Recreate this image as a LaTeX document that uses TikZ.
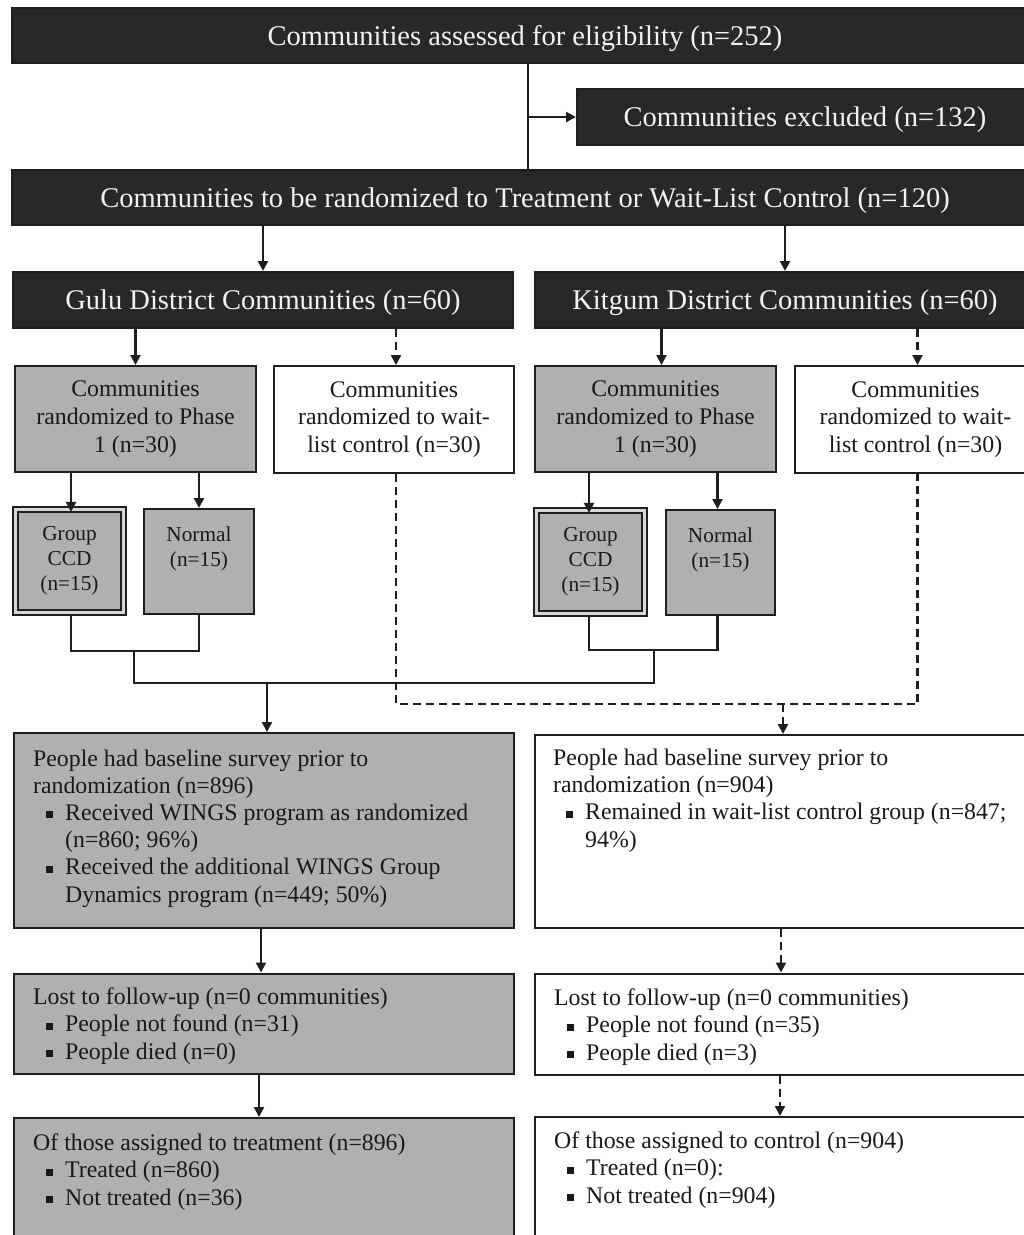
\documentclass[tikz,border=0pt]{standalone}
\usepackage{fontspec}
\setmainfont{Liberation Serif}
\usetikzlibrary{arrows.meta,calc}
\definecolor{darkfill}{RGB}{40,40,40}
\definecolor{grayfill}{RGB}{176,176,176}
\definecolor{linecol}{RGB}{30,30,30}
\definecolor{gapcol}{RGB}{215,215,215}
\newcommand{\sqbul}{\makebox[32pt][l]{\hspace{13pt}\rule[2pt]{6.5pt}{7pt}}}
\newcommand{\sqind}{\hspace*{32pt}}
\tikzset{
  box/.style={rectangle, draw=linecol, line width=2pt, inner sep=0pt, text=black!90},
  darkbox/.style={box, fill=darkfill, text=white!95!black, font=\fontsize{28.5}{34}\selectfont, text height=24pt, text depth=4.4pt},
  graybox/.style={box, fill=grayfill},
  whitebox/.style={box, fill=white},
  ctext/.style={align=center, font=\fontsize{23.8}{27.7}\selectfont},
  stext/.style={align=center, font=\fontsize{21.3}{25}\selectfont},
  dblbox/.style={box, fill=grayfill, draw=linecol, line width=2.2pt, double=gapcol, double distance=2.6pt},
  ltext/.style={anchor=base west, inner sep=0pt, align=left, text=black!90, font=\fontsize{23.8}{27.2}\selectfont},
  conn/.style={draw=linecol, line width=2.2pt},
  dconn/.style={conn, dash pattern=on 8pt off 5pt},
  arr/.style={conn, -{Triangle[width=10pt,length=10pt]}},
  darr/.style={dconn, -{Triangle[width=10pt,length=10pt]}},
}
\begin{document}
\begin{tikzpicture}[x=1pt,y=-1pt]
\useasboundingbox (0,0) rectangle (1024,1235);
\fill[white] (0,0) rectangle (1024,1235);

% top level
\node[darkbox, minimum width=1026, minimum height=55] (assess) at (525,35.5) {Communities assessed for eligibility (n=252)};
\node[darkbox, minimum width=456, minimum height=56] (excl) at (805,117) {Communities excluded (n=132)};
\node[darkbox, minimum width=1026, minimum height=55] (rand) at (525,197.5) {Communities to be randomized to Treatment or Wait-List Control (n=120)};

% districts
\node[darkbox, minimum width=500, minimum height=56] (gulu) at (263,300) {Gulu District Communities (n=60)};
\node[darkbox, minimum width=500, minimum height=56] (kit) at (785,300) {Kitgum District Communities (n=60)};

% randomized
\node[graybox, ctext, minimum width=241, minimum height=106] (gp1) at (135.5,419) {Communities\\randomized to Phase\\1 (n=30)};
\node[whitebox, ctext, minimum width=240, minimum height=107] (gw) at (394,419.5) {Communities\\randomized to wait-\\list control (n=30)};
\node[graybox, ctext, minimum width=241, minimum height=106] (kp1) at (655.5,419) {Communities\\randomized to Phase\\1 (n=30)};
\node[whitebox, ctext, minimum width=241, minimum height=107] (kw) at (915.5,419.5) {Communities\\randomized to wait-\\list control (n=30)};

% arms
\node[dblbox, stext, minimum width=108, minimum height=103] (ccd1) at (69.5,561) {Group\\CCD\\(n=15)};
\node[graybox, stext, minimum width=110, minimum height=105] (nor1) at (199,561.5) {Normal\\(n=15)\\\phantom{(n=15)}};
\node[dblbox, stext, minimum width=108, minimum height=103] (ccd2) at (590.5,562) {Group\\CCD\\(n=15)};
\node[graybox, stext, minimum width=109, minimum height=105] (nor2) at (720.5,562.5) {Normal\\(n=15)\\\phantom{(n=15)}};

% baseline
\node[graybox, minimum width=500, minimum height=195] (bl) at (264,830.5) {};
\node[whitebox, minimum width=500, minimum height=193] (br) at (785,831.5) {};
\node[ltext] (blt) at (33,902) {People had baseline survey prior to\\
randomization (n=896)\\
\sqbul Received WINGS program as randomized\\
\sqind (n=860; 96\%)\\
\sqbul Received the additional WINGS Group\\
\sqind Dynamics program (n=449; 50\%)};
\node[ltext] (brt) at (553,847) {People had baseline survey prior to\\
randomization (n=904)\\
\sqbul Remained in wait-list control group (n=847;\\
\sqind 94\%)};

% lost to follow-up
\node[graybox, minimum width=500, minimum height=100] (ll) at (264,1023.5) {};
\node[whitebox, minimum width=500, minimum height=101] (lr) at (785,1024) {};
\node[ltext] (llt) at (33,1059) {Lost to follow-up (n=0 communities)\\
\sqbul People not found (n=31)\\
\sqbul People died (n=0)};
\node[ltext] (lrt) at (554,1060) {Lost to follow-up (n=0 communities)\\
\sqbul People not found (n=35)\\
\sqbul People died (n=3)};

% assigned
\node[graybox, minimum width=500, minimum height=140] (tl) at (264,1188) {};
\node[whitebox, minimum width=500, minimum height=140] (tr) at (785,1187) {};
\node[ltext] (tlt) at (33,1205) {Of those assigned to treatment (n=896)\\
\sqbul Treated (n=860)\\
\sqbul Not treated (n=36)};
\node[ltext] (trt) at (554,1203) {Of those assigned to control (n=904)\\
\sqbul Treated (n=0):\\
\sqbul Not treated (n=904)};

% connectors top
\coordinate (av) at (528,0);
\draw[conn] (av |- assess.south) -- (av |- rand.north);
\draw[arr] (av |- excl.west) -- (excl.west);
\draw[arr] (gulu.north |- rand.south) -- (gulu.north);
\draw[arr] (kit.north |- rand.south) -- (kit.north);

% district to randomized
\draw[arr] (gp1.north |- gulu.south) -- (gp1.north);
\coordinate (g2) at ($(gw.north)+(2,0)$);
\draw[darr] (g2 |- gulu.south) -- (g2);
\coordinate (k1) at ($(kp1.north)+(6,0)$);
\draw[arr] (k1 |- kit.south) -- (k1);
\coordinate (k2) at ($(kw.north)+(2,0)$);
\draw[darr] (k2 |- kit.south) -- (k2);

% phase to arms
\coordinate (c1) at ($(ccd1.north)+(1.5,3.5)$);
\draw[arr] (c1 |- gp1.south) -- (c1);
\draw[arr] (nor1.north |- gp1.south) -- (nor1.north);
\coordinate (c2) at ($(ccd2.north)+(-1.5,3.5)$);
\draw[arr] (c2 |- kp1.south) -- (c2);
\coordinate (n2) at ($(nor2.north)+(-3,0)$);
\draw[arr] (n2 |- kp1.south) -- (n2);

% merges
\coordinate (m1) at (134,651);
\coordinate (m2) at (654,650);
\coordinate (jb) at (267,683);
\draw[conn] ($(ccd1.south)+(1.5,0)$) |- (m1) -| (nor1.south);
\draw[conn] ($(ccd2.south)+(-1.5,0)$) |- (m2) -| ($(nor2.south)+(-3,0)$);
\draw[conn] (m1) |- (jb) -| (m2);
\draw[arr] (jb) -- (jb |- bl.north);

% dashed merge
\coordinate (dj) at (783,704);
\draw[dconn] (g2 |- gw.south) |- (dj) -| (k2 |- kw.south);
\draw[darr] (dj) -- (dj |- br.north);

% lower arrows
\coordinate (a1) at ($(bl.south)+(-3,0)$);
\draw[arr] (a1) -- (a1 |- ll.north);
\coordinate (a2) at ($(ll.south)+(-5,0)$);
\draw[arr] (a2) -- (a2 |- tl.north);
\coordinate (b1) at ($(br.south)+(-4,0)$);
\draw[darr] (b1) -- (b1 |- lr.north);
\coordinate (b2) at ($(lr.south)+(-5,0)$);
\draw[darr] (b2) -- (b2 |- tr.north);
\end{tikzpicture}
\end{document}
